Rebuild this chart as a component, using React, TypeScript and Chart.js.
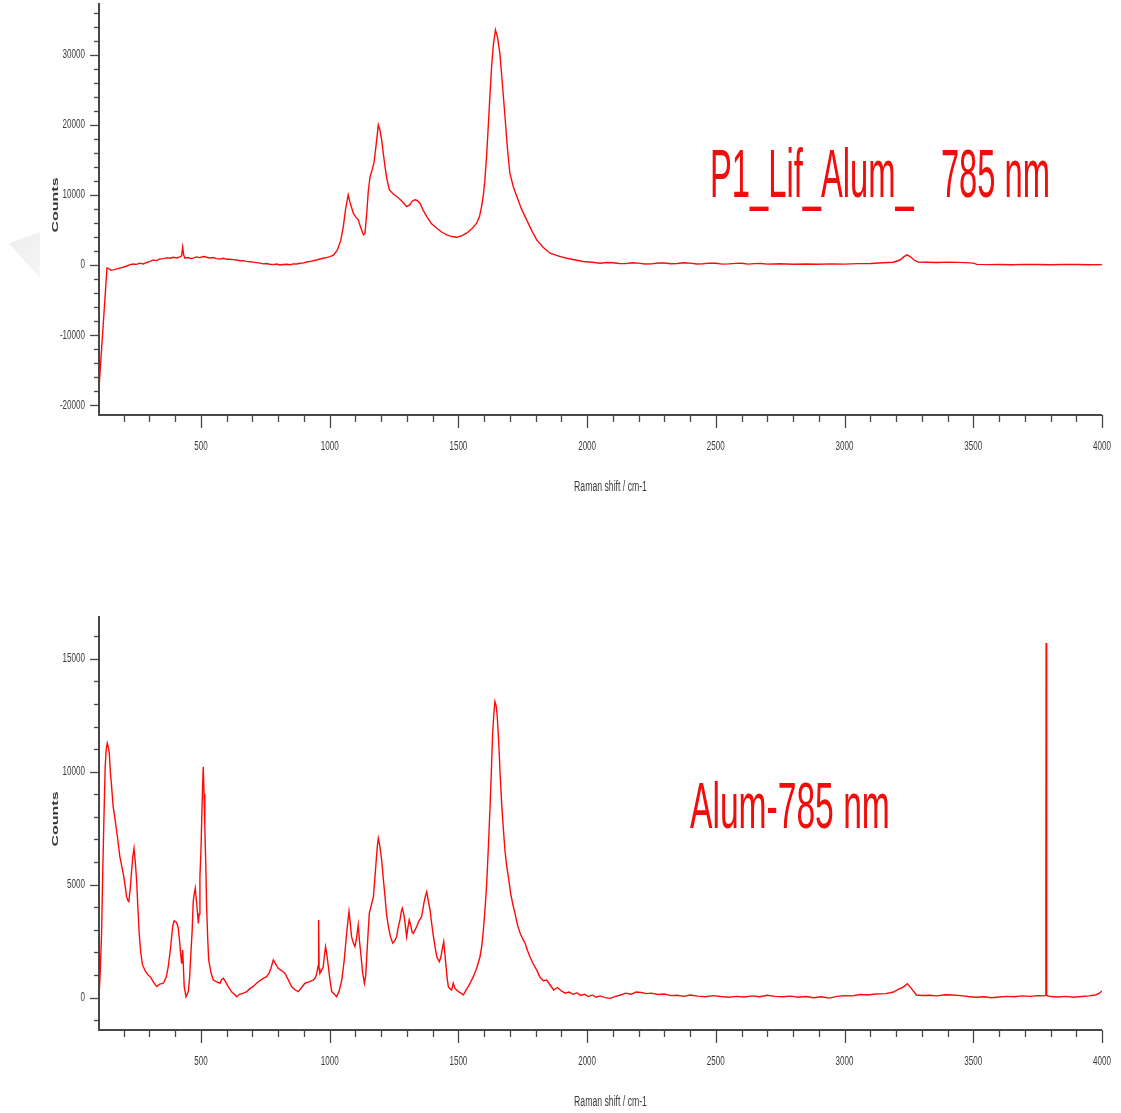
import React, { useEffect, useRef } from 'react';
import { Chart, registerables } from 'chart.js';

Chart.register(...registerables);

// ---- Spectrum 1: P1_Lif_Alum_ 785 nm ----
const TOP_SHIFT = [
  104, 135, 140, 150, 159, 170, 185, 198, 212, 225, 237, 250, 263, 276, 290, 303, 315, 328, 340, 354,
  367, 380, 393, 405, 418, 425, 429, 433, 438, 450, 461, 470, 482, 495, 509, 522, 535, 548, 561, 575,
  588, 600, 613, 626, 639, 651, 664, 677, 690, 703, 716, 729, 742, 755, 768, 781, 794, 807, 820, 833,
  846, 859, 872, 885, 898, 911, 923, 936, 949, 962, 975, 988, 1001, 1015, 1030, 1043, 1053, 1062, 1072, 1080,
  1092, 1100, 1111, 1120, 1131, 1137, 1144, 1150, 1157, 1165, 1172, 1180, 1189, 1195, 1202, 1208, 1215, 1222, 1232, 1245,
  1260, 1275, 1288, 1299, 1312, 1320, 1331, 1340, 1351, 1362, 1377, 1395, 1416, 1435, 1455, 1475, 1493, 1512, 1532, 1552,
  1571, 1582, 1590, 1597, 1603, 1610, 1616, 1623, 1629, 1636, 1644, 1652, 1661, 1671, 1681, 1690, 1700, 1713, 1727, 1745,
  1765, 1785, 1804, 1830, 1856, 1890, 1921, 1955, 1985, 2020, 2050, 2075, 2100, 2125, 2150, 2175, 2200, 2225, 2250, 2275,
  2300, 2325, 2350, 2375, 2400, 2425, 2450, 2475, 2500, 2525, 2550, 2575, 2600, 2625, 2650, 2675, 2700, 2750, 2800, 2850,
  2900, 2950, 3000, 3050, 3100, 3150, 3190, 3215, 3230, 3242, 3255, 3270, 3285, 3320, 3360, 3400, 3440, 3470, 3500, 3514,
  3560, 3600, 3650, 3700, 3750, 3800, 3850, 3900, 3950, 4000,
];
const TOP_COUNTS = [
  -17600, -430, -480, -750, -710, -600, -450, -330, -150, 50, 140, 80, 250, 140, 350, 500, 710, 620, 850, 900,
  1000, 950, 1100, 1000, 1150, 1300, 2530, 1400, 960, 1050, 900, 960, 1150, 1050, 1190, 1100, 1000, 1050, 900, 850,
  950, 800, 810, 750, 700, 600, 620, 500, 450, 400, 330, 250, 150, 200, 100, 50, 120, 0, 50, 100,
  20, 150, 140, 240, 300, 420, 480, 600, 700, 850, 950, 1050, 1190, 1400, 2140, 3500, 5470, 8000, 10000, 8800,
  7380, 6900, 6430, 5400, 4290, 4500, 7380, 10500, 12620, 13600, 14530, 17000, 20000, 19300, 17860, 16000, 14040, 12300, 10710, 10200,
  9760, 9300, 8800, 8330, 8600, 9100, 9290, 9200, 8810, 7900, 6900, 5900, 5240, 4700, 4290, 4050, 3950, 4150, 4530, 5150,
  5960, 6900, 8330, 10000, 12140, 15800, 19760, 24500, 28330, 31500, 33570, 32500, 30240, 25800, 21190, 16800, 13100, 11200, 9760, 8000,
  6430, 4900, 3570, 2500, 1670, 1250, 960, 700, 480, 380, 240, 350, 300, 200, 180, 300, 250, 130, 150, 270,
  280, 160, 200, 300, 260, 130, 170, 250, 230, 110, 150, 220, 240, 120, 190, 210, 120, 170, 100, 140,
  90, 150, 120, 180, 200, 300, 380, 700, 1150, 1430, 1200, 700, 420, 380, 350, 400, 360, 330, 250, 80,
  40, 60, 30, 80, 50, 30, 70, 60, 20, 40,
];

// ---- Spectrum 2: Alum-785 nm ----
const BOTTOM_SHIFT = [
  104, 109, 114, 119, 123, 128, 132, 136, 140, 144, 148, 153, 159, 165, 172, 178, 185, 191, 198, 205,
  211, 216, 220, 225, 231, 236, 240, 245, 250, 255, 260, 266, 273, 283, 295, 305, 315, 328, 340, 354,
  365, 373, 382, 390, 396, 403, 408, 412, 417, 421, 425, 429, 432, 435, 442, 451, 456, 461, 466, 470,
  474, 478, 484, 490, 493, 496, 500, 503, 506, 509, 512, 515, 519, 522, 526, 530, 539, 548, 561, 574,
  580, 587, 596, 606, 620, 630, 639, 650, 665, 678, 690, 703, 716, 728, 742, 755, 765, 772, 781, 790,
  800, 813, 826, 839, 852, 865, 878, 891, 904, 920, 936, 945, 950, 955, 957, 959, 962, 968, 975, 980,
  984, 988, 995, 1001, 1008, 1018, 1027, 1037, 1047, 1056, 1066, 1071, 1075, 1080, 1085, 1091, 1098, 1104, 1111, 1116,
  1122, 1128, 1135, 1140, 1144, 1149, 1154, 1162, 1170, 1175, 1180, 1185, 1189, 1195, 1202, 1208, 1215, 1221, 1228, 1236,
  1245, 1252, 1260, 1266, 1273, 1278, 1282, 1288, 1293, 1299, 1304, 1309, 1315, 1320, 1325, 1332, 1338, 1347, 1357, 1362,
  1366, 1372, 1377, 1383, 1390, 1396, 1403, 1410, 1416, 1426, 1432, 1438, 1443, 1447, 1451, 1456, 1461, 1467, 1474, 1480,
  1487, 1500, 1510, 1519, 1528, 1538, 1548, 1558, 1571, 1584, 1591, 1597, 1604, 1610, 1617, 1623, 1628, 1633, 1638, 1642,
  1647, 1651, 1657, 1662, 1668, 1675, 1681, 1688, 1696, 1703, 1712, 1720, 1730, 1740, 1750, 1759, 1768, 1778, 1790, 1804,
  1817, 1830, 1843, 1857, 1870, 1885, 1900, 1915, 1930, 1946, 1960, 1975, 1990, 2005, 2020, 2035, 2050, 2070, 2090, 2110,
  2130, 2150, 2170, 2190, 2210, 2230, 2250, 2275, 2300, 2325, 2350, 2375, 2400, 2430, 2460, 2490, 2520, 2550, 2580, 2610,
  2640, 2670, 2700, 2730, 2760, 2790, 2820, 2850, 2880, 2910, 2940, 2970, 3000, 3030, 3060, 3090, 3120, 3160, 3190, 3210,
  3225, 3244, 3260, 3279, 3300, 3330, 3360, 3390, 3420, 3450, 3480, 3510, 3540, 3570, 3600, 3630, 3660, 3690, 3720, 3750,
  3775, 3781, 3782, 3783, 3784, 3786, 3800, 3830, 3860, 3890, 3920, 3950, 3975, 3990, 4000,
];
const BOTTOM_COUNTS = [
  -30, 1200, 2850, 5800, 7860, 10200, 11000, 11260, 11100, 10810, 10000, 9340, 8450, 8000, 7420, 6900, 6240, 5900, 5500, 5000,
  4470, 4300, 4250, 4800, 5650, 6300, 6610, 6000, 5210, 4000, 2850, 2000, 1450, 1200, 1000, 900, 700, 490, 600, 640,
  900, 1370, 2200, 3140, 3400, 3360, 3250, 3070, 2500, 1960, 1500, 2110, 1300, 490, 40, 270, 900, 1960, 3000, 4250,
  4600, 4840, 4100, 3290, 3700, 5350, 6500, 7860, 9200, 10220, 9000, 7570, 5800, 4030, 2700, 1670, 1100, 780, 700, 640,
  800, 860, 700, 490, 250, 150, 40, 150, 200, 270, 400, 500, 640, 750, 850, 930, 1100, 1300, 1670, 1500,
  1300, 1200, 1080, 800, 490, 350, 270, 450, 640, 700, 780, 900, 1080, 1400, 3440, 1300, 1080, 1200, 1370, 1900,
  2260, 2000, 1370, 800, 270, 150, 40, 300, 780, 1600, 2850, 3400, 3810, 3300, 2700, 2450, 2260, 2600, 3220, 2500,
  1810, 1100, 640, 1000, 1810, 2800, 3730, 4100, 4470, 5200, 5950, 6700, 7050, 6700, 6090, 5300, 4470, 3700, 3140, 2700,
  2410, 2500, 2700, 3100, 3440, 3800, 3960, 3700, 3290, 2700, 3100, 3440, 3200, 2900, 2850, 3000, 3140, 3400, 3580, 3900,
  4180, 4500, 4690, 4300, 3880, 3300, 2700, 2200, 1810, 1590, 1800, 2200, 2480, 2000, 1520, 900, 490, 400, 340, 640,
  400, 270, 200, 120, 300, 490, 700, 930, 1300, 1810, 2300, 3000, 4000, 5060, 6800, 8450, 10000, 11700, 12600, 13100,
  12900, 12430, 11200, 9930, 8600, 7420, 6500, 5800, 5200, 4620, 4100, 3730, 3200, 2850, 2600, 2410, 2100, 1810, 1500, 1230,
  900, 750, 780, 550, 340, 450, 300, 200, 250, 150, 220, 100, 150, 50, 120, 20, 80, 0, -30, 60,
  120, 200, 150, 250, 230, 180, 200, 140, 160, 90, 110, 60, 120, 70, 40, 90, 50, 20, 60, 30,
  80, 40, 110, 60, 40, 70, 20, 50, 0, 40, -20, 60, 90, 80, 140, 120, 160, 180, 250, 380,
  450, 620, 400, 120, 100, 110, 80, 130, 120, 90, 50, 20, 40, 0, 30, 60, 40, 80, 60, 90,
  80, 100, 3900, 15700, 11300, 100, 50, 30, 60, 20, 50, 80, 120, 200, 300,
];

// ---- Axes ----
const X_RANGE = [104, 4000];
const X_LABEL_TICKS = [500, 1000, 1500, 2000, 2500, 3000, 3500, 4000];
const X_MINOR_STEP = 100;
const TOP_Y_RANGE = [-21430, 37400];
const TOP_Y_LABEL_TICKS = [-20000, -10000, 0, 10000, 20000, 30000];
const TOP_Y_MINOR_STEP = 2000;
const BOTTOM_Y_RANGE = [-1430, 16890];
const BOTTOM_Y_LABEL_TICKS = [0, 5000, 10000, 15000];
const BOTTOM_Y_MINOR_STEP = 1000;
const X_TITLE = 'Raman shift / cm-1';
const Y_TITLE = 'Counts';
const TOP_CAPTION = 'P1_Lif_Alum_   785 nm';
const BOTTOM_CAPTION = 'Alum-785 nm';

const FONT = '"Liberation Sans", Arial, sans-serif';
const TEXT_SQUEEZE = 0.62;
const AXIS_COLOR = '#474747';
const TEXT_COLOR = '#3a3a3a';

function squeezedText(
  ctx: CanvasRenderingContext2D,
  text: string,
  x: number,
  y: number,
  align: CanvasTextAlign,
  font: string,
  rotate = false,
) {
  ctx.save();
  ctx.translate(x, y);
  ctx.scale(TEXT_SQUEEZE, 1);
  if (rotate) ctx.rotate(-Math.PI / 2);
  ctx.font = font;
  ctx.fillStyle = TEXT_COLOR;
  ctx.textAlign = align;
  ctx.textBaseline = 'middle';
  ctx.fillText(text, 0, 0);
  ctx.restore();
}

// Draws the axis lines, major/minor tick marks, tick labels and axis titles.
const axisDecor = {
  id: 'axisDecor',
  afterDraw(chart: any, _args: any, opts: any) {
    const { ctx, chartArea } = chart;
    const xs = chart.scales.x;
    const ys = chart.scales.y;
    const { left, right, top, bottom } = chartArea;
    ctx.save();
    ctx.strokeStyle = AXIS_COLOR;

    // axis lines
    ctx.lineWidth = 2;
    ctx.beginPath();
    ctx.moveTo(left, top);
    ctx.lineTo(left, bottom);
    ctx.lineTo(right, bottom);
    ctx.stroke();

    ctx.lineWidth = 1.3;
    // x ticks
    const xMin = xs.min;
    const xMax = xs.max;
    for (let v = Math.ceil(xMin / X_MINOR_STEP) * X_MINOR_STEP; v <= xMax; v += X_MINOR_STEP) {
      const major = X_LABEL_TICKS.includes(v);
      const px = Math.round(xs.getPixelForValue(v)) + 0.5;
      ctx.beginPath();
      ctx.moveTo(px, bottom);
      ctx.lineTo(px, bottom + (major ? 13 : 7));
      ctx.stroke();
    }
    for (const v of X_LABEL_TICKS) {
      squeezedText(ctx, String(v), xs.getPixelForValue(v), bottom + 31, 'center', `13px ${FONT}`);
    }

    // y ticks
    const step = opts.yMinorStep;
    for (let v = Math.ceil(ys.min / step) * step; v <= ys.max; v += step) {
      const major = opts.yLabels.includes(v);
      const py = Math.round(ys.getPixelForValue(v)) + 0.5;
      ctx.beginPath();
      ctx.moveTo(left, py);
      ctx.lineTo(left - (major ? 9 : 5), py);
      ctx.stroke();
    }
    for (const v of opts.yLabels) {
      squeezedText(ctx, String(v), left - 14, ys.getPixelForValue(v), 'right', `13px ${FONT}`);
    }

    // titles
    squeezedText(ctx, X_TITLE, (left + right) / 2 + 10, bottom + 72, 'center', `14px ${FONT}`);
    squeezedText(ctx, Y_TITLE, 55, (top + bottom) / 2 - 4, 'center', `bold 16px ${FONT}`, true);
    ctx.restore();
  },
};

type PanelProps = {
  top: number;
  height: number;
  padTop: number;
  shift: number[];
  counts: number[];
  yRange: number[];
  yLabels: number[];
  yMinorStep: number;
  xAxisHeight: number;
};

function SpectrumPanel(p: PanelProps) {
  const ref = useRef<HTMLCanvasElement | null>(null);
  useEffect(() => {
    if (!ref.current) return;
    const points = p.shift.map((x, i) => ({ x, y: p.counts[i] }));
    const chart = new Chart(ref.current, {
      type: 'line',
      data: {
        datasets: [
          {
            data: points,
            borderColor: '#ff0a0a',
            borderWidth: 1.4,
            pointRadius: 0,
            tension: 0,
            fill: false,
          },
        ],
      },
      options: {
        responsive: false,
        animation: false,
        events: [],
        layout: { padding: { left: 0, top: p.padTop, right: 19, bottom: 0 } },
        plugins: {
          legend: { display: false },
          tooltip: { enabled: false },
          // @ts-ignore
          axisDecor: { yLabels: p.yLabels, yMinorStep: p.yMinorStep },
        },
        scales: {
          x: {
            type: 'linear',
            min: X_RANGE[0],
            max: X_RANGE[1],
            grid: { display: false },
            border: { display: false },
            ticks: { display: false },
            afterFit: (s: any) => {
              s.height = p.xAxisHeight;
            },
          },
          y: {
            type: 'linear',
            min: p.yRange[0],
            max: p.yRange[1],
            grid: { display: false },
            border: { display: false },
            ticks: { display: false },
            afterFit: (s: any) => {
              s.width = 99;
            },
          },
        },
      },
      plugins: [axisDecor],
    });
    return () => chart.destroy();
  }, []);
  return (
    <canvas
      ref={ref}
      width={1121}
      height={p.height}
      style={{ position: 'absolute', left: 0, top: p.top, width: 1121, height: p.height }}
    />
  );
}

const captionStyle: React.CSSProperties = {
  position: 'absolute',
  fontFamily: FONT,
  color: '#f20d0d',
  lineHeight: 1,
  whiteSpace: 'pre',
  transformOrigin: 'left top',
  margin: 0,
};

export default function App() {
  return (
    <div
      style={{
        position: 'absolute',
        left: 0,
        top: 0,
        width: 1121,
        height: 1113,
        background: '#ffffff',
        overflow: 'hidden',
      }}
    >
      <div
        style={{
          position: 'absolute',
          left: 9,
          top: 232,
          width: 31,
          height: 46,
          background: 'linear-gradient(135deg, #ececec, #f7f7f7)',
          clipPath: 'polygon(0% 25%, 100% 0%, 100% 100%)',
        }}
      />
      <SpectrumPanel
        top={0}
        height={510}
        padTop={3}
        shift={TOP_SHIFT}
        counts={TOP_COUNTS}
        yRange={TOP_Y_RANGE}
        yLabels={TOP_Y_LABEL_TICKS}
        yMinorStep={TOP_Y_MINOR_STEP}
        xAxisHeight={95}
      />
      <SpectrumPanel
        top={600}
        height={513}
        padTop={16}
        shift={BOTTOM_SHIFT}
        counts={BOTTOM_COUNTS}
        yRange={BOTTOM_Y_RANGE}
        yLabels={BOTTOM_Y_LABEL_TICKS}
        yMinorStep={BOTTOM_Y_MINOR_STEP}
        xAxisHeight={83}
      />
      <div style={{ ...captionStyle, left: 710, top: 139, fontSize: 68, transform: 'scaleX(0.481)' }}>
        {TOP_CAPTION}
      </div>
      <div style={{ ...captionStyle, left: 690, top: 774, fontSize: 64, transform: 'scaleX(0.525)' }}>
        {BOTTOM_CAPTION}
      </div>
    </div>
  );
}
